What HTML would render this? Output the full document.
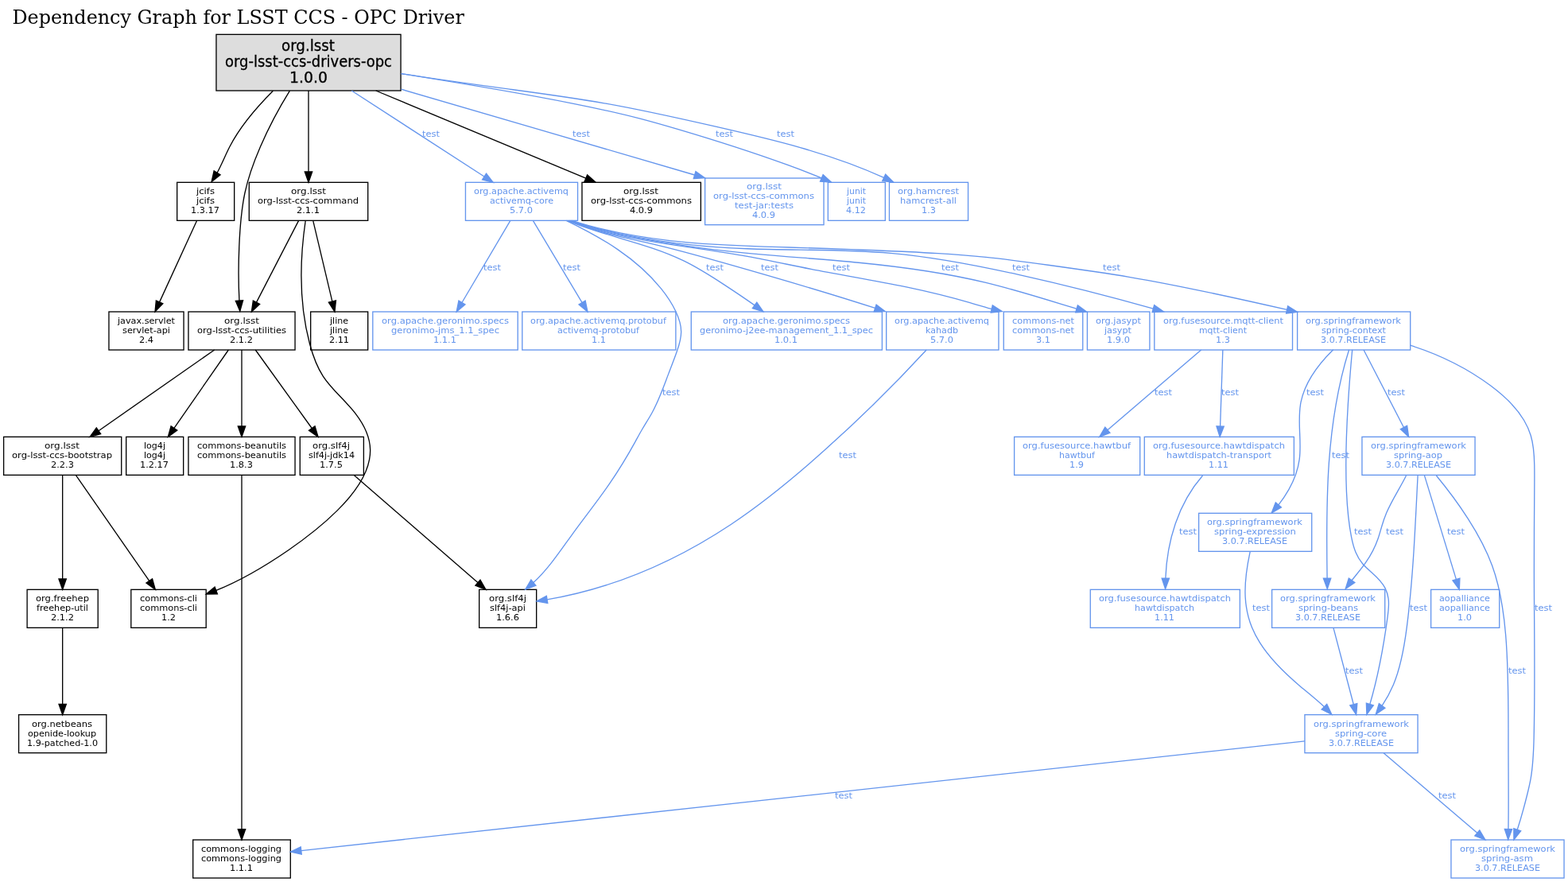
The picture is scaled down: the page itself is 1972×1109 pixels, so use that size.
<!DOCTYPE html>
<html lang="en"><head><meta charset="utf-8"><title>Dependency Graph for LSST CCS - OPC Driver</title>
<style>html,body{margin:0;padding:0;background:#fff}body{width:1972px;height:1109px;overflow:hidden}svg{display:block;will-change:transform}svg text{font-family:"DejaVu Sans","Liberation Sans",sans-serif;white-space:pre}svg .title{font-family:"DejaVu Serif","Liberation Serif",serif}svg rect,svg path,svg polygon{stroke-width:1.3333px}svg text.big{stroke:#000;stroke-width:0.3px}</style></head>
<body>
<svg xmlns="http://www.w3.org/2000/svg" width="1972" height="1109" viewBox="0 0 1972 1109">
<rect x="0" y="0" width="1972" height="1109" fill="#fff" stroke="none"/>
<text class="title" x="15.4" y="29.9" font-size="24" fill="#000" textLength="568.4" lengthAdjust="spacingAndGlyphs">Dependency Graph for LSST CCS - OPC Driver</text>
<g class="node">
<rect x="271.95" y="43.33" width="232.1" height="70.67" fill="#dddddd" stroke="#000"/>
<text class="big" x="354" y="64" font-size="18.67" fill="#000" textLength="67" lengthAdjust="spacingAndGlyphs">org.lsst</text>
<text class="big" x="283" y="84" font-size="18.67" fill="#000" textLength="210" lengthAdjust="spacingAndGlyphs">org-lsst-ccs-drivers-opc</text>
<text class="big" x="364" y="104" font-size="18.67" fill="#000" textLength="48" lengthAdjust="spacingAndGlyphs">1.0.0</text>
</g>
<g class="node">
<rect x="222.67" y="229.33" width="72" height="48" fill="none" stroke="#000"/>
<text x="247" y="244" font-size="10.67" fill="#000" textLength="23" lengthAdjust="spacingAndGlyphs">jcifs</text>
<text x="247" y="256" font-size="10.67" fill="#000" textLength="23" lengthAdjust="spacingAndGlyphs">jcifs</text>
<text x="240" y="268" font-size="10.67" fill="#000" textLength="36" lengthAdjust="spacingAndGlyphs">1.3.17</text>
</g>
<g class="node">
<rect x="313.3" y="229.33" width="149.4" height="48" fill="none" stroke="#000"/>
<text x="366" y="244" font-size="10.67" fill="#000" textLength="44" lengthAdjust="spacingAndGlyphs">org.lsst</text>
<text x="324" y="256" font-size="10.67" fill="#000" textLength="127" lengthAdjust="spacingAndGlyphs">org-lsst-ccs-command</text>
<text x="373" y="268" font-size="10.67" fill="#000" textLength="29" lengthAdjust="spacingAndGlyphs">2.1.1</text>
</g>
<g class="node">
<rect x="585.45" y="229.33" width="141.1" height="48" fill="none" stroke="#6495ed"/>
<text x="596" y="244" font-size="10.67" fill="#6495ed" textLength="119" lengthAdjust="spacingAndGlyphs">org.apache.activemq</text>
<text x="616" y="256" font-size="10.67" fill="#6495ed" textLength="80" lengthAdjust="spacingAndGlyphs">activemq-core</text>
<text x="641" y="268" font-size="10.67" fill="#6495ed" textLength="29" lengthAdjust="spacingAndGlyphs">5.7.0</text>
</g>
<g class="node">
<rect x="731.97" y="229.33" width="149.4" height="48" fill="none" stroke="#000"/>
<text x="784" y="244" font-size="10.67" fill="#000" textLength="44" lengthAdjust="spacingAndGlyphs">org.lsst</text>
<text x="743" y="256" font-size="10.67" fill="#000" textLength="127" lengthAdjust="spacingAndGlyphs">org-lsst-ccs-commons</text>
<text x="792" y="268" font-size="10.67" fill="#000" textLength="29" lengthAdjust="spacingAndGlyphs">4.0.9</text>
</g>
<g class="node">
<rect x="886.63" y="224" width="149.4" height="58.67" fill="none" stroke="#6495ed"/>
<text x="939" y="238" font-size="10.67" fill="#6495ed" textLength="44" lengthAdjust="spacingAndGlyphs">org.lsst</text>
<text x="897" y="250" font-size="10.67" fill="#6495ed" textLength="127" lengthAdjust="spacingAndGlyphs">org-lsst-ccs-commons</text>
<text x="924" y="262" font-size="10.67" fill="#6495ed" textLength="74" lengthAdjust="spacingAndGlyphs">test-jar:tests</text>
<text x="946" y="274" font-size="10.67" fill="#6495ed" textLength="29" lengthAdjust="spacingAndGlyphs">4.0.9</text>
</g>
<g class="node">
<rect x="1041.33" y="229.33" width="72" height="48" fill="none" stroke="#6495ed"/>
<text x="1065" y="244" font-size="10.67" fill="#6495ed" textLength="24" lengthAdjust="spacingAndGlyphs">junit</text>
<text x="1065" y="256" font-size="10.67" fill="#6495ed" textLength="24" lengthAdjust="spacingAndGlyphs">junit</text>
<text x="1064" y="268" font-size="10.67" fill="#6495ed" textLength="25" lengthAdjust="spacingAndGlyphs">4.12</text>
</g>
<g class="node">
<rect x="1118.45" y="229.33" width="99.1" height="48" fill="none" stroke="#6495ed"/>
<text x="1129" y="244" font-size="10.67" fill="#6495ed" textLength="77" lengthAdjust="spacingAndGlyphs">org.hamcrest</text>
<text x="1132" y="256" font-size="10.67" fill="#6495ed" textLength="71" lengthAdjust="spacingAndGlyphs">hamcrest-all</text>
<text x="1159" y="268" font-size="10.67" fill="#6495ed" textLength="18" lengthAdjust="spacingAndGlyphs">1.3</text>
</g>
<g class="node">
<rect x="136.95" y="392" width="94.1" height="48" fill="none" stroke="#000"/>
<text x="148" y="407" font-size="10.67" fill="#000" textLength="72" lengthAdjust="spacingAndGlyphs">javax.servlet</text>
<text x="154" y="419" font-size="10.67" fill="#000" textLength="60" lengthAdjust="spacingAndGlyphs">servlet-api</text>
<text x="175" y="431" font-size="10.67" fill="#000" textLength="18" lengthAdjust="spacingAndGlyphs">2.4</text>
</g>
<g class="node">
<rect x="236.95" y="392" width="134.1" height="48" fill="none" stroke="#000"/>
<text x="282" y="407" font-size="10.67" fill="#000" textLength="44" lengthAdjust="spacingAndGlyphs">org.lsst</text>
<text x="248" y="419" font-size="10.67" fill="#000" textLength="112" lengthAdjust="spacingAndGlyphs">org-lsst-ccs-utilities</text>
<text x="289" y="431" font-size="10.67" fill="#000" textLength="29" lengthAdjust="spacingAndGlyphs">2.1.2</text>
</g>
<g class="node">
<rect x="390.67" y="392" width="72" height="48" fill="none" stroke="#000"/>
<text x="415" y="407" font-size="10.67" fill="#000" textLength="23" lengthAdjust="spacingAndGlyphs">jline</text>
<text x="415" y="419" font-size="10.67" fill="#000" textLength="23" lengthAdjust="spacingAndGlyphs">jline</text>
<text x="414" y="431" font-size="10.67" fill="#000" textLength="25" lengthAdjust="spacingAndGlyphs">2.11</text>
</g>
<g class="node">
<rect x="468.8" y="392" width="182.4" height="48" fill="none" stroke="#6495ed"/>
<text x="480" y="407" font-size="10.67" fill="#6495ed" textLength="160" lengthAdjust="spacingAndGlyphs">org.apache.geronimo.specs</text>
<text x="492" y="419" font-size="10.67" fill="#6495ed" textLength="136" lengthAdjust="spacingAndGlyphs">geronimo-jms_1.1_spec</text>
<text x="545" y="431" font-size="10.67" fill="#6495ed" textLength="29" lengthAdjust="spacingAndGlyphs">1.1.1</text>
</g>
<g class="node">
<rect x="656.78" y="392" width="193.1" height="48" fill="none" stroke="#6495ed"/>
<text x="667" y="407" font-size="10.67" fill="#6495ed" textLength="171" lengthAdjust="spacingAndGlyphs">org.apache.activemq.protobuf</text>
<text x="701" y="419" font-size="10.67" fill="#6495ed" textLength="103" lengthAdjust="spacingAndGlyphs">activemq-protobuf</text>
<text x="744" y="431" font-size="10.67" fill="#6495ed" textLength="18" lengthAdjust="spacingAndGlyphs">1.1</text>
</g>
<g class="node">
<rect x="869.28" y="392" width="240.1" height="48" fill="none" stroke="#6495ed"/>
<text x="909" y="407" font-size="10.67" fill="#6495ed" textLength="160" lengthAdjust="spacingAndGlyphs">org.apache.geronimo.specs</text>
<text x="880" y="419" font-size="10.67" fill="#6495ed" textLength="218" lengthAdjust="spacingAndGlyphs">geronimo-j2ee-management_1.1_spec</text>
<text x="974" y="431" font-size="10.67" fill="#6495ed" textLength="29" lengthAdjust="spacingAndGlyphs">1.0.1</text>
</g>
<g class="node">
<rect x="1114.68" y="392" width="141.3" height="48" fill="none" stroke="#6495ed"/>
<text x="1125" y="407" font-size="10.67" fill="#6495ed" textLength="119" lengthAdjust="spacingAndGlyphs">org.apache.activemq</text>
<text x="1164" y="419" font-size="10.67" fill="#6495ed" textLength="41" lengthAdjust="spacingAndGlyphs">kahadb</text>
<text x="1170" y="431" font-size="10.67" fill="#6495ed" textLength="29" lengthAdjust="spacingAndGlyphs">5.7.0</text>
</g>
<g class="node">
<rect x="1262.25" y="392" width="99.5" height="48" fill="none" stroke="#6495ed"/>
<text x="1273" y="407" font-size="10.67" fill="#6495ed" textLength="78" lengthAdjust="spacingAndGlyphs">commons-net</text>
<text x="1273" y="419" font-size="10.67" fill="#6495ed" textLength="78" lengthAdjust="spacingAndGlyphs">commons-net</text>
<text x="1303" y="431" font-size="10.67" fill="#6495ed" textLength="18" lengthAdjust="spacingAndGlyphs">3.1</text>
</g>
<g class="node">
<rect x="1367.42" y="392" width="78.5" height="48" fill="none" stroke="#6495ed"/>
<text x="1378" y="407" font-size="10.67" fill="#6495ed" textLength="57" lengthAdjust="spacingAndGlyphs">org.jasypt</text>
<text x="1389" y="419" font-size="10.67" fill="#6495ed" textLength="34" lengthAdjust="spacingAndGlyphs">jasypt</text>
<text x="1392" y="431" font-size="10.67" fill="#6495ed" textLength="29" lengthAdjust="spacingAndGlyphs">1.9.0</text>
</g>
<g class="node">
<rect x="1451.82" y="392" width="173.7" height="48" fill="none" stroke="#6495ed"/>
<text x="1463" y="407" font-size="10.67" fill="#6495ed" textLength="151" lengthAdjust="spacingAndGlyphs">org.fusesource.mqtt-client</text>
<text x="1508" y="419" font-size="10.67" fill="#6495ed" textLength="60" lengthAdjust="spacingAndGlyphs">mqtt-client</text>
<text x="1529" y="431" font-size="10.67" fill="#6495ed" textLength="18" lengthAdjust="spacingAndGlyphs">1.3</text>
</g>
<g class="node">
<rect x="1631.62" y="392" width="142.1" height="48" fill="none" stroke="#6495ed"/>
<text x="1642" y="407" font-size="10.67" fill="#6495ed" textLength="120" lengthAdjust="spacingAndGlyphs">org.springframework</text>
<text x="1662" y="419" font-size="10.67" fill="#6495ed" textLength="81" lengthAdjust="spacingAndGlyphs">spring-context</text>
<text x="1661" y="431" font-size="10.67" fill="#6495ed" textLength="82" lengthAdjust="spacingAndGlyphs">3.0.7.RELEASE</text>
</g>
<g class="node">
<rect x="4.62" y="549.33" width="148.1" height="48" fill="none" stroke="#000"/>
<text x="56" y="564" font-size="10.67" fill="#000" textLength="44" lengthAdjust="spacingAndGlyphs">org.lsst</text>
<text x="15" y="576" font-size="10.67" fill="#000" textLength="126" lengthAdjust="spacingAndGlyphs">org-lsst-ccs-bootstrap</text>
<text x="64" y="588" font-size="10.67" fill="#000" textLength="29" lengthAdjust="spacingAndGlyphs">2.2.3</text>
</g>
<g class="node">
<rect x="158.67" y="549.33" width="72" height="48" fill="none" stroke="#000"/>
<text x="181" y="564" font-size="10.67" fill="#000" textLength="27" lengthAdjust="spacingAndGlyphs">log4j</text>
<text x="181" y="576" font-size="10.67" fill="#000" textLength="27" lengthAdjust="spacingAndGlyphs">log4j</text>
<text x="176" y="588" font-size="10.67" fill="#000" textLength="36" lengthAdjust="spacingAndGlyphs">1.2.17</text>
</g>
<g class="node">
<rect x="236.95" y="549.33" width="134.1" height="48" fill="none" stroke="#000"/>
<text x="248" y="564" font-size="10.67" fill="#000" textLength="112" lengthAdjust="spacingAndGlyphs">commons-beanutils</text>
<text x="248" y="576" font-size="10.67" fill="#000" textLength="112" lengthAdjust="spacingAndGlyphs">commons-beanutils</text>
<text x="289" y="588" font-size="10.67" fill="#000" textLength="29" lengthAdjust="spacingAndGlyphs">1.8.3</text>
</g>
<g class="node">
<rect x="377.28" y="549.33" width="80.1" height="48" fill="none" stroke="#000"/>
<text x="393" y="564" font-size="10.67" fill="#000" textLength="47" lengthAdjust="spacingAndGlyphs">org.slf4j</text>
<text x="388" y="576" font-size="10.67" fill="#000" textLength="58" lengthAdjust="spacingAndGlyphs">slf4j-jdk14</text>
<text x="402" y="588" font-size="10.67" fill="#000" textLength="29" lengthAdjust="spacingAndGlyphs">1.7.5</text>
</g>
<g class="node">
<rect x="1275.62" y="549.33" width="158.1" height="48" fill="none" stroke="#6495ed"/>
<text x="1286" y="564" font-size="10.67" fill="#6495ed" textLength="136" lengthAdjust="spacingAndGlyphs">org.fusesource.hawtbuf</text>
<text x="1332" y="576" font-size="10.67" fill="#6495ed" textLength="45" lengthAdjust="spacingAndGlyphs">hawtbuf</text>
<text x="1345" y="588" font-size="10.67" fill="#6495ed" textLength="18" lengthAdjust="spacingAndGlyphs">1.9</text>
</g>
<g class="node">
<rect x="1439.28" y="549.33" width="188.1" height="48" fill="none" stroke="#6495ed"/>
<text x="1450" y="564" font-size="10.67" fill="#6495ed" textLength="166" lengthAdjust="spacingAndGlyphs">org.fusesource.hawtdispatch</text>
<text x="1467" y="576" font-size="10.67" fill="#6495ed" textLength="132" lengthAdjust="spacingAndGlyphs">hawtdispatch-transport</text>
<text x="1520" y="588" font-size="10.67" fill="#6495ed" textLength="25" lengthAdjust="spacingAndGlyphs">1.11</text>
</g>
<g class="node">
<rect x="1712.95" y="549.33" width="142.1" height="48" fill="none" stroke="#6495ed"/>
<text x="1724" y="564" font-size="10.67" fill="#6495ed" textLength="120" lengthAdjust="spacingAndGlyphs">org.springframework</text>
<text x="1753" y="576" font-size="10.67" fill="#6495ed" textLength="61" lengthAdjust="spacingAndGlyphs">spring-aop</text>
<text x="1743" y="588" font-size="10.67" fill="#6495ed" textLength="82" lengthAdjust="spacingAndGlyphs">3.0.7.RELEASE</text>
</g>
<g class="node">
<rect x="1507.62" y="645.33" width="142.1" height="48" fill="none" stroke="#6495ed"/>
<text x="1518" y="660" font-size="10.67" fill="#6495ed" textLength="120" lengthAdjust="spacingAndGlyphs">org.springframework</text>
<text x="1527" y="672" font-size="10.67" fill="#6495ed" textLength="103" lengthAdjust="spacingAndGlyphs">spring-expression</text>
<text x="1537" y="684" font-size="10.67" fill="#6495ed" textLength="82" lengthAdjust="spacingAndGlyphs">3.0.7.RELEASE</text>
</g>
<g class="node">
<rect x="34.12" y="741.33" width="89.1" height="48" fill="none" stroke="#000"/>
<text x="45" y="756" font-size="10.67" fill="#000" textLength="67" lengthAdjust="spacingAndGlyphs">org.freehep</text>
<text x="46" y="768" font-size="10.67" fill="#000" textLength="65" lengthAdjust="spacingAndGlyphs">freehep-util</text>
<text x="64" y="780" font-size="10.67" fill="#000" textLength="29" lengthAdjust="spacingAndGlyphs">2.1.2</text>
</g>
<g class="node">
<rect x="164.8" y="741.33" width="94.4" height="48" fill="none" stroke="#000"/>
<text x="176" y="756" font-size="10.67" fill="#000" textLength="72" lengthAdjust="spacingAndGlyphs">commons-cli</text>
<text x="176" y="768" font-size="10.67" fill="#000" textLength="72" lengthAdjust="spacingAndGlyphs">commons-cli</text>
<text x="203" y="780" font-size="10.67" fill="#000" textLength="18" lengthAdjust="spacingAndGlyphs">1.2</text>
</g>
<g class="node">
<rect x="602.67" y="741.33" width="72" height="48" fill="none" stroke="#000"/>
<text x="615" y="756" font-size="10.67" fill="#000" textLength="47" lengthAdjust="spacingAndGlyphs">org.slf4j</text>
<text x="616" y="768" font-size="10.67" fill="#000" textLength="45" lengthAdjust="spacingAndGlyphs">slf4j-api</text>
<text x="624" y="780" font-size="10.67" fill="#000" textLength="29" lengthAdjust="spacingAndGlyphs">1.6.6</text>
</g>
<g class="node">
<rect x="1371.28" y="741.33" width="188.1" height="48" fill="none" stroke="#6495ed"/>
<text x="1382" y="756" font-size="10.67" fill="#6495ed" textLength="166" lengthAdjust="spacingAndGlyphs">org.fusesource.hawtdispatch</text>
<text x="1427" y="768" font-size="10.67" fill="#6495ed" textLength="75" lengthAdjust="spacingAndGlyphs">hawtdispatch</text>
<text x="1452" y="780" font-size="10.67" fill="#6495ed" textLength="25" lengthAdjust="spacingAndGlyphs">1.11</text>
</g>
<g class="node">
<rect x="1599.62" y="741.33" width="142.1" height="48" fill="none" stroke="#6495ed"/>
<text x="1610" y="756" font-size="10.67" fill="#6495ed" textLength="120" lengthAdjust="spacingAndGlyphs">org.springframework</text>
<text x="1633" y="768" font-size="10.67" fill="#6495ed" textLength="75" lengthAdjust="spacingAndGlyphs">spring-beans</text>
<text x="1629" y="780" font-size="10.67" fill="#6495ed" textLength="82" lengthAdjust="spacingAndGlyphs">3.0.7.RELEASE</text>
</g>
<g class="node">
<rect x="1799.62" y="741.33" width="86.1" height="48" fill="none" stroke="#6495ed"/>
<text x="1810" y="756" font-size="10.67" fill="#6495ed" textLength="64" lengthAdjust="spacingAndGlyphs">aopalliance</text>
<text x="1810" y="768" font-size="10.67" fill="#6495ed" textLength="64" lengthAdjust="spacingAndGlyphs">aopalliance</text>
<text x="1833" y="780" font-size="10.67" fill="#6495ed" textLength="18" lengthAdjust="spacingAndGlyphs">1.0</text>
</g>
<g class="node">
<rect x="23.57" y="898.67" width="110.2" height="48" fill="none" stroke="#000"/>
<text x="40" y="914" font-size="10.67" fill="#000" textLength="76" lengthAdjust="spacingAndGlyphs">org.netbeans</text>
<text x="35" y="926" font-size="10.67" fill="#000" textLength="86" lengthAdjust="spacingAndGlyphs">openide-lookup</text>
<text x="34" y="938" font-size="10.67" fill="#000" textLength="89" lengthAdjust="spacingAndGlyphs">1.9-patched-1.0</text>
</g>
<g class="node">
<rect x="1640.95" y="898.67" width="142.1" height="48" fill="none" stroke="#6495ed"/>
<text x="1652" y="914" font-size="10.67" fill="#6495ed" textLength="120" lengthAdjust="spacingAndGlyphs">org.springframework</text>
<text x="1679" y="926" font-size="10.67" fill="#6495ed" textLength="65" lengthAdjust="spacingAndGlyphs">spring-core</text>
<text x="1671" y="938" font-size="10.67" fill="#6495ed" textLength="82" lengthAdjust="spacingAndGlyphs">3.0.7.RELEASE</text>
</g>
<g class="node">
<rect x="242.7" y="1056" width="122.6" height="48" fill="none" stroke="#000"/>
<text x="253" y="1071" font-size="10.67" fill="#000" textLength="101" lengthAdjust="spacingAndGlyphs">commons-logging</text>
<text x="253" y="1083" font-size="10.67" fill="#000" textLength="101" lengthAdjust="spacingAndGlyphs">commons-logging</text>
<text x="289" y="1095" font-size="10.67" fill="#000" textLength="29" lengthAdjust="spacingAndGlyphs">1.1.1</text>
</g>
<g class="node">
<rect x="1824.95" y="1056" width="142.1" height="48" fill="none" stroke="#6495ed"/>
<text x="1836" y="1071" font-size="10.67" fill="#6495ed" textLength="120" lengthAdjust="spacingAndGlyphs">org.springframework</text>
<text x="1863" y="1083" font-size="10.67" fill="#6495ed" textLength="65" lengthAdjust="spacingAndGlyphs">spring-asm</text>
<text x="1855" y="1095" font-size="10.67" fill="#6495ed" textLength="82" lengthAdjust="spacingAndGlyphs">3.0.7.RELEASE</text>
</g>
<g class="edge">
<path d="M343.4,114.3 C322.34,135.32 302.47,158.07 288.86,184.57 C283.34,195.32 278.85,206.68 273.1,217.25" fill="none" stroke="#000"/>
<polygon points="269.13,214.8 266.1,228.6 277.07,219.7" fill="#000" stroke="#000"/>
</g>
<g class="edge">
<path d="M364.4,114.2 C350.41,136.75 337.93,160.28 327.34,184.69 C319.15,203.56 312.09,222.96 307.87,242.99 C305.66,253.5 304.23,264.19 303.16,274.92 C301.98,286.79 301.25,298.71 300.76,310.63 C299.83,333.11 299.76,355.53 300.95,377.99" fill="none" stroke="#000"/>
<polygon points="296.29,378.29 301.8,391.3 305.6,377.69" fill="#000" stroke="#000"/>
</g>
<g class="edge">
<path d="M388,114 L388,216" fill="none" stroke="#000"/>
<polygon points="383.33,216 388,229.33 392.67,216" fill="#000" stroke="#000"/>
</g>
<g class="edge">
<path d="M472.69,114 L736.83,224.2" fill="none" stroke="#000"/>
<polygon points="735.04,228.51 749.14,229.33 738.63,219.89" fill="#000" stroke="#000"/>
</g>
<g class="edge">
<path d="M247.65,277.33 L200.58,379.88" fill="none" stroke="#000"/>
<polygon points="196.34,377.94 195.02,392 204.82,381.83" fill="#000" stroke="#000"/>
</g>
<g class="edge">
<path d="M375.61,277.33 L322.51,380.15" fill="none" stroke="#000"/>
<polygon points="318.36,378.01 316.39,392 326.66,382.29" fill="#000" stroke="#000"/>
</g>
<g class="edge">
<path d="M384.2,277.5 C376.68,328.65 376.03,381.8 389.49,432.24 C393.34,446.63 398.33,460.81 406.31,473.06 C417.46,490.17 434.45,503.53 447.32,520.31 C457.63,533.75 465.29,549.38 465.63,565.38 C465.72,569.53 465.31,573.7 464.54,577.8 C459.94,602.22 442.32,623.95 423.7,642.4 C404.54,661.37 384.31,676.87 362.74,691.7 C334.39,711.21 303.71,729.57 271.78,742.4" fill="none" stroke="#000"/>
<polygon points="270.13,738.03 259.3,747.1 273.42,746.77" fill="#000" stroke="#000"/>
</g>
<g class="edge">
<path d="M393.7,277.33 L417.88,379.03" fill="none" stroke="#000"/>
<polygon points="413.34,380.11 420.96,392 422.42,377.95" fill="#000" stroke="#000"/>
</g>
<g class="edge">
<path d="M269.63,440 L123.97,541.7" fill="none" stroke="#000"/>
<polygon points="121.3,537.87 113.04,549.33 126.64,545.53" fill="#000" stroke="#000"/>
</g>
<g class="edge">
<path d="M287.32,440 L218.95,538.38" fill="none" stroke="#000"/>
<polygon points="215.12,535.72 211.34,549.33 222.79,541.05" fill="#000" stroke="#000"/>
</g>
<g class="edge">
<path d="M304,440 L304,536" fill="none" stroke="#000"/>
<polygon points="299.33,536 304,549.33 308.67,536" fill="#000" stroke="#000"/>
</g>
<g class="edge">
<path d="M321.29,440 L392.25,538.51" fill="none" stroke="#000"/>
<polygon points="388.47,541.24 400.05,549.33 396.04,535.79" fill="#000" stroke="#000"/>
</g>
<g class="edge">
<path d="M78.67,597.33 L78.67,728" fill="none" stroke="#000"/>
<polygon points="74,728 78.67,741.33 83.33,728" fill="#000" stroke="#000"/>
</g>
<g class="edge">
<path d="M95.33,597.33 L187.73,730.38" fill="none" stroke="#000"/>
<polygon points="183.89,733.04 195.33,741.33 191.56,727.72" fill="#000" stroke="#000"/>
</g>
<g class="edge">
<path d="M78.67,789.33 L78.67,885.33" fill="none" stroke="#000"/>
<polygon points="74,885.33 78.67,898.67 83.33,885.33" fill="#000" stroke="#000"/>
</g>
<g class="edge">
<path d="M304,597.33 L304,1042.67" fill="none" stroke="#000"/>
<polygon points="299.33,1042.67 304,1056 308.67,1042.67" fill="#000" stroke="#000"/>
</g>
<g class="edge">
<path d="M445,597.33 L600.93,732.6" fill="none" stroke="#000"/>
<polygon points="597.87,736.12 611,741.33 603.99,729.07" fill="#000" stroke="#000"/>
</g>
<g class="edge">
<path d="M442.21,114 L609.01,222.05" fill="none" stroke="#6495ed"/>
<polygon points="606.47,225.97 620.2,229.3 611.55,218.13" fill="#6495ed" stroke="#6495ed"/>
<text x="531" y="172" font-size="10.67" fill="#6495ed" textLength="22" lengthAdjust="spacingAndGlyphs">test</text>
</g>
<g class="edge">
<path d="M504.6,112.2 C627.43,148.72 750.77,183.56 873.62,220" fill="none" stroke="#6495ed"/>
<polygon points="872.29,224.48 886.4,223.8 874.95,215.53" fill="#6495ed" stroke="#6495ed"/>
<text x="720" y="172" font-size="10.67" fill="#6495ed" textLength="22" lengthAdjust="spacingAndGlyphs">test</text>
</g>
<g class="edge">
<path d="M504.6,92.6 C576.49,104.04 648.57,115.83 720.02,130.08 C748.81,135.82 777.5,141.96 805.88,149.39 C821.35,153.44 836.73,157.87 852.08,162.41 C898.42,176.1 944.56,190.75 989.95,207.22 C1004.52,212.51 1019.01,217.98 1033.32,223.9" fill="none" stroke="#6495ed"/>
<polygon points="1031.5,228.19 1045.6,229.1 1035.14,219.6" fill="#6495ed" stroke="#6495ed"/>
<text x="900" y="172" font-size="10.67" fill="#6495ed" textLength="22" lengthAdjust="spacingAndGlyphs">test</text>
</g>
<g class="edge">
<path d="M504.6,92.6 C550.71,99.98 597.06,106.22 643.39,112.48 C682.33,117.74 721.26,123.02 759.89,129.81 C806.17,137.95 852.01,148.25 897.93,158.71 C970.74,175.31 1043.72,192.31 1111.64,223.4" fill="none" stroke="#6495ed"/>
<polygon points="1109.65,227.62 1123.7,229.1 1113.64,219.19" fill="#6495ed" stroke="#6495ed"/>
<text x="977" y="172" font-size="10.67" fill="#6495ed" textLength="22" lengthAdjust="spacingAndGlyphs">test</text>
</g>
<g class="edge">
<path d="M641.84,277.33 L580.94,380.52" fill="none" stroke="#6495ed"/>
<polygon points="576.92,378.15 574.16,392 584.96,382.89" fill="#6495ed" stroke="#6495ed"/>
<text x="608" y="340" font-size="10.67" fill="#6495ed" textLength="22" lengthAdjust="spacingAndGlyphs">test</text>
</g>
<g class="edge">
<path d="M670.36,277.33 L732.13,380.56" fill="none" stroke="#6495ed"/>
<polygon points="728.12,382.95 738.97,392 736.13,378.16" fill="#6495ed" stroke="#6495ed"/>
<text x="708" y="340" font-size="10.67" fill="#6495ed" textLength="22" lengthAdjust="spacingAndGlyphs">test</text>
</g>
<g class="edge">
<path d="M712.2,277.3 C756.48,298.62 800.39,324.17 831.46,362.94 C838.49,371.7 844.86,381.14 849.73,391.3 C853.67,399.54 856.63,408.25 856.67,417.05 C856.7,425.24 854.21,433.51 851.43,441.57 C848.02,451.44 844.18,461 840.51,470.63 C834.26,487.05 828.51,503.67 820.05,519.01 C816.08,526.2 811.53,533.11 807.37,540.22 C804.52,545.11 801.85,550.1 799.12,555.06 C788.98,573.49 778.01,591.53 766.07,608.85 C751.35,630.21 735.15,650.48 719.91,671.54 C704.53,692.77 690.11,714.79 670.88,732.58" fill="none" stroke="#6495ed"/>
<polygon points="667.86,729.02 660.7,741.2 673.89,736.14" fill="#6495ed" stroke="#6495ed"/>
<text x="833" y="497" font-size="10.67" fill="#6495ed" textLength="22" lengthAdjust="spacingAndGlyphs">test</text>
</g>
<g class="edge">
<path d="M713.5,277.3 C761,297.3 813.5,305.44 859.82,327.93 C877.42,336.48 894.13,347.09 910.61,357.87 C923.61,366.37 936.48,374.97 949.08,383.9" fill="none" stroke="#6495ed"/>
<polygon points="946.36,387.69 959.9,391.7 951.81,380.12" fill="#6495ed" stroke="#6495ed"/>
<text x="888" y="340" font-size="10.67" fill="#6495ed" textLength="22" lengthAdjust="spacingAndGlyphs">test</text>
</g>
<g class="edge">
<path d="M715,277.3 C736.07,286.2 757.96,292.35 780.09,297.58 C793.34,300.71 806.67,303.52 819.94,306.59 C850.38,313.64 880.48,322.09 910.55,330.62 C974.18,348.66 1037.71,367.04 1100.63,387.46" fill="none" stroke="#6495ed"/>
<polygon points="1099.18,391.89 1113.3,391.6 1102.08,383.02" fill="#6495ed" stroke="#6495ed"/>
<text x="957" y="340" font-size="10.67" fill="#6495ed" textLength="22" lengthAdjust="spacingAndGlyphs">test</text>
</g>
<g class="edge">
<path d="M716.5,277.3 C737.03,285.87 758.46,291.42 780.09,296.04 C806.53,301.68 833.28,305.92 860.05,309.92 C886.73,313.91 913.43,317.66 939.96,322.43 C966.72,327.25 993.29,333.11 1019.99,338.34 C1059.92,346.17 1100.12,352.59 1139.94,360.91 C1166.83,366.52 1193.56,373 1219.95,380.66 C1229.03,383.29 1238.08,386.06 1247.22,388.45" fill="none" stroke="#6495ed"/>
<polygon points="1246.15,392.99 1260.2,391.5 1248.29,383.91" fill="#6495ed" stroke="#6495ed"/>
<text x="1047" y="340" font-size="10.67" fill="#6495ed" textLength="22" lengthAdjust="spacingAndGlyphs">test</text>
</g>
<g class="edge">
<path d="M717.5,277.3 C737.86,285.14 758.84,290.52 780.07,294.93 C793.27,297.67 806.57,300.05 819.89,302.3 C846.5,306.81 873.22,310.85 900,314.07 C959.82,321.28 1019.97,324.43 1079.97,330.22 C1133.76,335.41 1187.42,342.73 1239.91,355.38 C1278.37,364.65 1316.21,376.79 1354.04,388.33" fill="none" stroke="#6495ed"/>
<polygon points="1352.69,392.8 1366.8,392.2 1355.39,383.87" fill="#6495ed" stroke="#6495ed"/>
<text x="1184" y="340" font-size="10.67" fill="#6495ed" textLength="22" lengthAdjust="spacingAndGlyphs">test</text>
</g>
<g class="edge">
<path d="M718.5,277.3 C751.26,289.18 785.52,295.91 819.92,301.33 C833.29,303.44 846.68,305.35 860.1,306.91 C873.37,308.45 886.67,309.65 899.99,310.6 C913.29,311.56 926.61,312.27 939.94,312.77 C999.93,315.05 1060.25,313.14 1119.98,318.3 C1173.81,322.95 1227.16,333.33 1280.02,345.09 C1337.26,357.81 1393.93,372.14 1450.38,388.14" fill="none" stroke="#6495ed"/>
<polygon points="1449.1,392.62 1463.2,391.8 1451.66,383.65" fill="#6495ed" stroke="#6495ed"/>
<text x="1273" y="340" font-size="10.67" fill="#6495ed" textLength="22" lengthAdjust="spacingAndGlyphs">test</text>
</g>
<g class="edge">
<path d="M719.5,277.3 C739.3,283.86 759.55,288.79 780.01,292.83 C806.45,298.06 833.22,301.79 860.05,304.37 C899.93,308.2 939.96,309.49 979.99,310.65 C999.99,311.23 1019.99,311.77 1039.99,312.47 C1053.33,312.94 1066.67,313.48 1080.01,314 C1113.35,315.32 1146.71,316.59 1180.01,318.62 C1200.02,319.85 1220.02,321.35 1239.95,323.38 C1266.71,326.11 1293.36,329.79 1320.02,333.48 C1353.4,338.1 1386.79,342.73 1420.01,348.29 C1486.69,359.44 1552.7,374.32 1618.6,389.42" fill="none" stroke="#6495ed"/>
<polygon points="1617.56,393.97 1631.6,392.4 1619.65,384.87" fill="#6495ed" stroke="#6495ed"/>
<text x="1387" y="340" font-size="10.67" fill="#6495ed" textLength="22" lengthAdjust="spacingAndGlyphs">test</text>
</g>
<g class="edge">
<path d="M1165.1,440 C1124.9,483.74 1082.45,525.36 1038.15,565.12 C1000.42,598.98 961.36,631.5 919.2,659.48 C849.38,705.81 771.08,739.69 688.07,753.92" fill="none" stroke="#6495ed"/>
<polygon points="687.34,749.31 674.9,756 688.8,758.52" fill="#6495ed" stroke="#6495ed"/>
<text x="1055" y="576" font-size="10.67" fill="#6495ed" textLength="22" lengthAdjust="spacingAndGlyphs">test</text>
</g>
<g class="edge">
<path d="M1510.6,440 L1392.87,540.67" fill="none" stroke="#6495ed"/>
<polygon points="1389.84,537.12 1382.73,549.33 1395.9,544.22" fill="#6495ed" stroke="#6495ed"/>
<text x="1452" y="497" font-size="10.67" fill="#6495ed" textLength="22" lengthAdjust="spacingAndGlyphs">test</text>
</g>
<g class="edge">
<path d="M1537.85,440 L1534.6,536.01" fill="none" stroke="#6495ed"/>
<polygon points="1529.93,535.85 1534.15,549.33 1539.26,536.17" fill="#6495ed" stroke="#6495ed"/>
<text x="1536" y="497" font-size="10.67" fill="#6495ed" textLength="22" lengthAdjust="spacingAndGlyphs">test</text>
</g>
<g class="edge">
<path d="M1512.5,598 C1481.42,633.55 1467.72,680.61 1465.83,727.17" fill="none" stroke="#6495ed"/>
<polygon points="1461.16,727.09 1465.6,740.5 1470.49,727.25" fill="#6495ed" stroke="#6495ed"/>
<text x="1483" y="672" font-size="10.67" fill="#6495ed" textLength="22" lengthAdjust="spacingAndGlyphs">test</text>
</g>
<g class="edge">
<path d="M1676.7,439.8 C1658.8,457.34 1641.18,480.44 1636.05,505.74 C1633.56,518.03 1634.01,530.83 1634.58,543.59 C1635.1,555.06 1635.72,566.49 1634.19,577.7 C1633.32,584.09 1631.75,590.4 1629.6,596.55 C1624.75,610.37 1616.93,623.37 1607.89,634.79" fill="none" stroke="#6495ed"/>
<polygon points="1604.35,631.75 1599.2,644.9 1611.43,637.83" fill="#6495ed" stroke="#6495ed"/>
<text x="1643" y="497" font-size="10.67" fill="#6495ed" textLength="22" lengthAdjust="spacingAndGlyphs">test</text>
</g>
<g class="edge">
<path d="M1696.6,439.8 C1667.4,532.65 1667.67,630.8 1669.1,727.17" fill="none" stroke="#6495ed"/>
<polygon points="1664.43,727.24 1669.3,740.5 1673.76,727.1" fill="#6495ed" stroke="#6495ed"/>
<text x="1675" y="576" font-size="10.67" fill="#6495ed" textLength="22" lengthAdjust="spacingAndGlyphs">test</text>
</g>
<g class="edge">
<path d="M1700.7,439.8 C1695.19,499.05 1690.84,558.88 1693.45,618.37 C1694.29,637.38 1695.83,656.35 1699.57,675.21 C1700.86,681.72 1702.42,688.22 1704.92,694.29 C1707.13,699.64 1710.07,704.66 1713.81,709.01 C1717.12,712.87 1721.06,716.2 1724.96,719.64 C1731.63,725.53 1738.18,731.75 1742.11,739.59 C1744.15,743.68 1745.49,748.2 1746.1,752.74 C1747.13,760.27 1746.17,767.85 1745.15,775.4 C1740.12,812.7 1733.48,849.45 1722.84,885.46" fill="none" stroke="#6495ed"/>
<polygon points="1718.38,884.08 1718.9,898.2 1727.3,886.84" fill="#6495ed" stroke="#6495ed"/>
<text x="1703" y="672" font-size="10.67" fill="#6495ed" textLength="22" lengthAdjust="spacingAndGlyphs">test</text>
</g>
<g class="edge">
<path d="M1715.07,440 L1765.47,537.49" fill="none" stroke="#6495ed"/>
<polygon points="1761.32,539.63 1771.59,549.33 1769.62,535.35" fill="#6495ed" stroke="#6495ed"/>
<text x="1745" y="497" font-size="10.67" fill="#6495ed" textLength="22" lengthAdjust="spacingAndGlyphs">test</text>
</g>
<g class="edge">
<path d="M1773.6,434.2 C1809.95,445.68 1843.9,462.07 1874.5,484.79 C1890.86,496.94 1906.25,510.9 1916.54,528.24 C1920.14,534.3 1923.11,540.78 1925.16,547.49 C1928.82,559.51 1929.54,572.29 1929.77,584.99 C1929.93,593.36 1929.88,601.69 1929.82,610.02 C1929.59,646.68 1929.32,683.33 1929.37,719.99 C1929.48,789.12 1930.76,858.3 1929.14,927.39 C1928.74,944.52 1928.16,961.63 1925.2,978.51 C1923.86,986.13 1922.04,993.69 1920.15,1001.22 C1916.59,1015.38 1912.77,1029.41 1908.26,1043.2" fill="none" stroke="#6495ed"/>
<polygon points="1903.85,1041.67 1903.9,1055.8 1912.67,1044.72" fill="#6495ed" stroke="#6495ed"/>
<text x="1930" y="768" font-size="10.67" fill="#6495ed" textLength="22" lengthAdjust="spacingAndGlyphs">test</text>
</g>
<g class="edge">
<path d="M1768.5,598 C1760.75,613.69 1750.54,628.6 1743.74,644.85 C1741.4,650.45 1739.46,656.2 1737.72,662.03 C1736.22,667.03 1734.87,672.09 1733.18,677.02 C1729.47,687.84 1724.12,698.03 1717.55,707.44 C1712.16,715.17 1705.94,722.37 1700.11,729.77" fill="none" stroke="#6495ed"/>
<polygon points="1696.36,727 1692.2,740.5 1703.87,732.54" fill="#6495ed" stroke="#6495ed"/>
<text x="1743" y="672" font-size="10.67" fill="#6495ed" textLength="22" lengthAdjust="spacingAndGlyphs">test</text>
</g>
<g class="edge">
<path d="M1783.1,598 C1779.82,661.81 1777.42,725.44 1769.24,788.94 C1766.06,813.6 1762.01,838.25 1752.4,860.96 C1748.51,870.13 1743.72,878.99 1738.12,887.4" fill="none" stroke="#6495ed"/>
<polygon points="1734.34,884.66 1730.3,898.2 1741.9,890.14" fill="#6495ed" stroke="#6495ed"/>
<text x="1773" y="768" font-size="10.67" fill="#6495ed" textLength="22" lengthAdjust="spacingAndGlyphs">test</text>
</g>
<g class="edge">
<path d="M1791.33,597.33 L1831.44,728.58" fill="none" stroke="#6495ed"/>
<polygon points="1826.97,729.95 1835.33,741.33 1835.9,727.22" fill="#6495ed" stroke="#6495ed"/>
<text x="1820" y="672" font-size="10.67" fill="#6495ed" textLength="22" lengthAdjust="spacingAndGlyphs">test</text>
</g>
<g class="edge">
<path d="M1806.4,598 C1820.62,615.21 1834.13,633.29 1846.35,652.33 C1858.33,670.99 1869.08,690.58 1876.63,711.21 C1886.8,739.02 1891.14,768.72 1893.64,798.44 C1897.6,845.59 1896.91,892.77 1896.97,939.99 C1897.01,974.15 1897.44,1008.32 1896.94,1042.47" fill="none" stroke="#6495ed"/>
<polygon points="1892.28,1042.38 1896.7,1055.8 1901.61,1042.55" fill="#6495ed" stroke="#6495ed"/>
<text x="1897" y="847" font-size="10.67" fill="#6495ed" textLength="22" lengthAdjust="spacingAndGlyphs">test</text>
</g>
<g class="edge">
<path d="M1572.2,693.7 C1568.24,712.15 1565.1,731.77 1566.18,751 C1566.91,763.98 1569.57,776.79 1574.44,788.76 C1577.14,795.42 1580.53,801.82 1584.36,807.93 C1597.54,828.99 1615.94,846.66 1634.95,862.68 C1645.21,871.34 1655.66,879.51 1665.42,888.72" fill="none" stroke="#6495ed"/>
<polygon points="1662.1,892 1674.8,898.2 1668.74,885.44" fill="#6495ed" stroke="#6495ed"/>
<text x="1575" y="768" font-size="10.67" fill="#6495ed" textLength="22" lengthAdjust="spacingAndGlyphs">test</text>
</g>
<g class="edge">
<path d="M1676.97,789.33 L1702.31,885.77" fill="none" stroke="#6495ed"/>
<polygon points="1697.79,886.96 1705.69,898.67 1706.82,884.59" fill="#6495ed" stroke="#6495ed"/>
<text x="1692" y="847" font-size="10.67" fill="#6495ed" textLength="22" lengthAdjust="spacingAndGlyphs">test</text>
</g>
<g class="edge">
<path d="M1640.9,931.9 L378.75,1069.55" fill="none" stroke="#6495ed"/>
<polygon points="378.25,1064.92 365.5,1071 379.26,1074.19" fill="#6495ed" stroke="#6495ed"/>
<text x="1050" y="1004" font-size="10.67" fill="#6495ed" textLength="22" lengthAdjust="spacingAndGlyphs">test</text>
</g>
<g class="edge">
<path d="M1740.07,946.67 L1857.8,1047.33" fill="none" stroke="#6495ed"/>
<polygon points="1854.77,1050.88 1867.93,1056 1860.83,1043.79" fill="#6495ed" stroke="#6495ed"/>
<text x="1809" y="1004" font-size="10.67" fill="#6495ed" textLength="22" lengthAdjust="spacingAndGlyphs">test</text>
</g>
</svg>
</body></html>
